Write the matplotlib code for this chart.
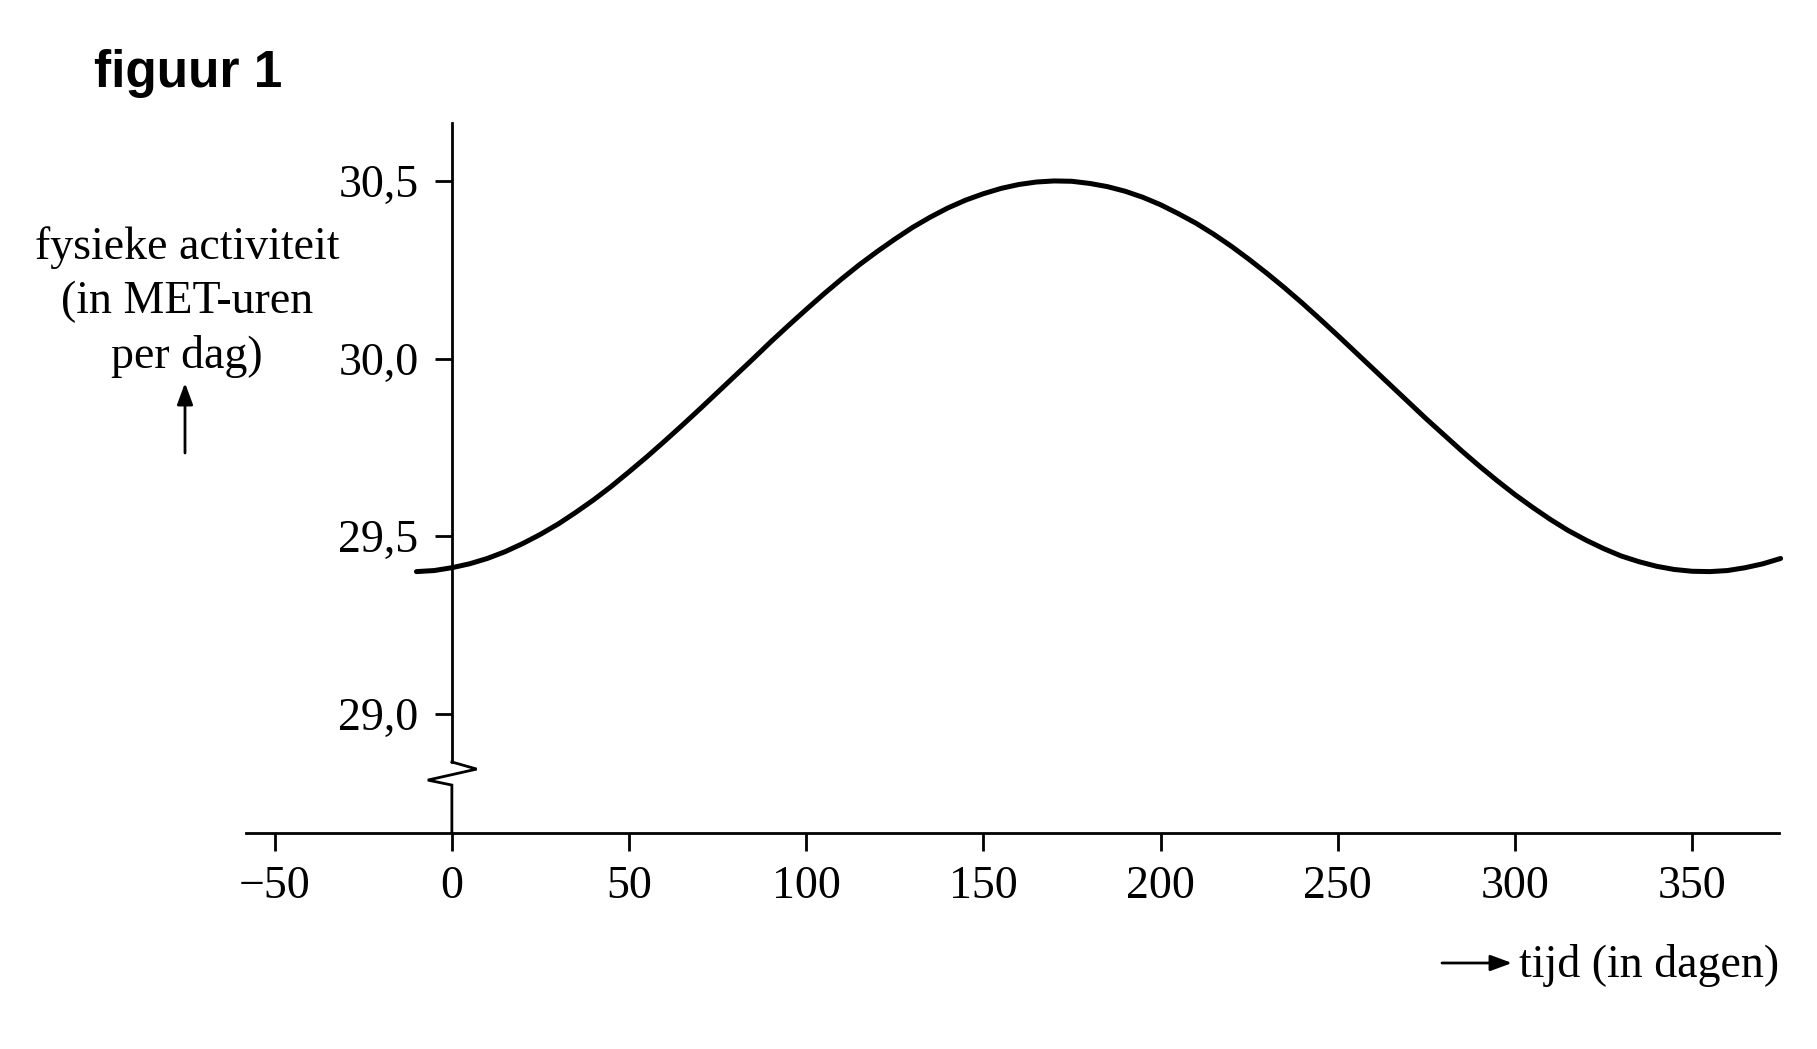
import matplotlib
matplotlib.use('Agg')
import matplotlib.pyplot as plt
from matplotlib.patches import FancyArrowPatch

# curve (day, MET-uren per dag), every 5 days
days = [-10, -5, 0, 5, 10, 15, 20, 25, 30, 35, 40, 45, 50, 55, 60, 65, 70, 75,
        80, 85, 90, 95, 100, 105, 110, 115, 120, 125, 130, 135, 140, 145, 150,
        155, 160, 165, 170, 175, 180, 185, 190, 195, 200, 205, 210, 215, 220,
        225, 230, 235, 240, 245, 250, 255, 260, 265, 270, 275, 280, 285, 290,
        295, 300, 305, 310, 315, 320, 325, 330, 335, 340, 345, 350, 355, 360,
        365, 370, 375]
activity = [29.400, 29.403, 29.411, 29.422, 29.437, 29.456, 29.479, 29.505,
            29.534, 29.567, 29.602, 29.640, 29.681, 29.723, 29.767, 29.812,
            29.858, 29.905, 29.952, 29.999, 30.047, 30.093, 30.138, 30.182,
            30.224, 30.264, 30.301, 30.336, 30.369, 30.398, 30.424, 30.446,
            30.464, 30.479, 30.490, 30.497, 30.500, 30.499, 30.493, 30.484,
            30.471, 30.454, 30.433, 30.408, 30.381, 30.350, 30.316, 30.279,
            30.240, 30.199, 30.156, 30.111, 30.065, 30.018, 29.971, 29.924,
            29.877, 29.830, 29.785, 29.740, 29.697, 29.656, 29.617, 29.581,
            29.547, 29.516, 29.489, 29.465, 29.444, 29.428, 29.415, 29.406,
            29.401, 29.400, 29.403, 29.411, 29.422, 29.437]

x_ticks = [-50, 0, 50, 100, 150, 200, 250, 300, 350]
x_labels = ['\u221250', '0', '50', '100', '150', '200', '250', '300', '350']
y_ticks = [29.0, 29.5, 30.0, 30.5]
y_labels = ['29,0', '29,5', '30,0', '30,5']

serif = 'Liberation Serif'
fs = 33
lw_axis = 2.0

W, H = 1817, 1049
fig = plt.figure(figsize=(W / 100, H / 100), dpi=100)
ax = fig.add_axes([0.1352, 0.2059, 0.979 - 0.1352, 0.8827 - 0.2059])

ax.plot(days, activity, color='black', lw=3.6, solid_capstyle='round',
        solid_joinstyle='round', clip_on=False)

x0, x1 = -58.2, 374.5
y0, y1 = 28.664, 30.663
ax.set_xlim(x0, x1)
ax.set_ylim(y0, y1)

for s in ['top', 'right']:
    ax.spines[s].set_visible(False)
ax.spines['bottom'].set_linewidth(lw_axis)
ax.spines['left'].set_linewidth(lw_axis)
ax.spines['left'].set_position(('data', 0))

# axis break (zigzag) on the y-axis
brk_top, brk_bot = 28.864, 28.799
ax.spines['left'].set_bounds(brk_top, y1)
ax.plot([0, 7.0, -6.8, 0, 0], [brk_top, 28.844, 28.813, brk_bot, y0],
        color='black', lw=lw_axis, clip_on=False, solid_joinstyle='miter')

ax.set_xticks(x_ticks)
ax.set_xticklabels(x_labels, fontfamily=serif, fontsize=fs)
ax.set_yticks(y_ticks)
ax.set_yticklabels(y_labels, fontfamily=serif, fontsize=fs)
ax.tick_params(axis='x', direction='out', length=13, width=lw_axis, pad=10.5)
ax.tick_params(axis='y', direction='out', length=12, width=lw_axis, pad=12)

fig.text(94 / W, 1 - 87 / H, 'figuur 1', family='Liberation Sans',
         fontweight='bold', fontsize=37, ha='left', va='baseline')

fig.text(187 / W, 1 - 302 / H, 'fysieke activiteit\n(in MET-uren\nper dag)',
         family=serif, fontsize=fs, ha='center', va='center',
         multialignment='center', linespacing=1.35)

arrow_style = '-|>,head_length=13,head_width=4.8'
fig.add_artist(FancyArrowPatch(
    (185 / W, 1 - 453 / H), (185 / W, 1 - 383 / H), transform=fig.transFigure,
    arrowstyle=arrow_style, color='black', lw=2.0, shrinkA=0, shrinkB=0))

fig.text(1779 / W, 1 - 977 / H, 'tijd (in dagen)', family=serif, fontsize=fs,
         ha='right', va='baseline')
fig.add_artist(FancyArrowPatch(
    (1442 / W, 1 - 963 / H), (1512 / W, 1 - 963 / H), transform=fig.transFigure,
    arrowstyle=arrow_style, color='black', lw=2.0, shrinkA=0, shrinkB=0))

fig.savefig('out.png', dpi=100)
